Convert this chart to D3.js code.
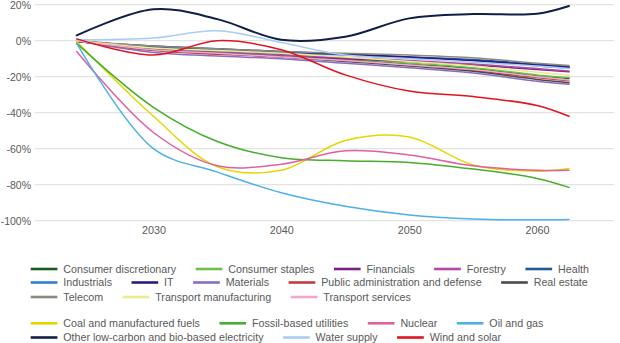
<!DOCTYPE html>
<html><head><meta charset="utf-8">
<script src="https://cdn.jsdelivr.net/npm/d3@7"></script>
<style>
html,body{margin:0;padding:0;background:#fff;}
svg{display:block;}
text{font-family:"Liberation Sans",Arial,sans-serif;fill:#595959;}
</style></head>
<body>
<svg id="chart" width="620" height="343"></svg>
<script>
// ---- data ----
const years = [2024, 2030, 2035, 2040, 2045, 2050, 2055, 2060, 2062.5];
const xTicks = [2030, 2040, 2050, 2060];
const yTicks = [20, 0, -20, -40, -60, -80, -100];

const consumerDiscretionary = [0, -4, -6, -8, -10.5, -13, -15.5, -19.5, -21];
const consumerStaples = [0, -4.5, -6, -8, -10, -12.5, -15, -19, -20.5];
const financials = [-0.5, -4.5, -6.5, -8, -10, -11.5, -13.5, -16, -17.3];
const forestry = [0, -5, -6.5, -8, -9.5, -11, -13, -15.5, -16.8];
const health = [0, -3.5, -5, -6.5, -7.5, -9, -10.5, -13, -14.3];
const industrials = [-0.5, -4, -5.5, -7, -8, -9.5, -11, -14, -15.2];
const it = [-0.5, -3, -4.5, -6, -7.5, -9, -11, -13.5, -14.8];
const materials = [0, -6.5, -8.5, -10, -12.5, -15, -18, -22.5, -24.2];
const publicAdmin = [0, -5.5, -7.5, -9, -11, -13.5, -16.5, -20.5, -22.3];
const realEstate = [0, -5, -7, -9, -11.5, -14, -17, -21.5, -23.3];
const telecom = [0, -3, -4.5, -6, -7, -8, -9.5, -12.5, -13.8];
const transportManufacturing = [0, -4, -5.5, -7, -9, -11.5, -14, -17.5, -19];
const transportServices = [0, -5, -7, -9, -11, -13.5, -16, -20, -21.8];
const coal = [-0.5, -42, -70, -72, -55.5, -53.5, -69, -72.5, -71];
const fossilUtilities = [-1.5, -37, -56, -65, -66.7, -67.6, -71.3, -76.5, -81.5];
const nuclear = [-6, -51, -69.5, -68.6, -61.2, -63.5, -69.5, -72, -72];
const oilGas = [-1.5, -60, -73, -84.5, -92, -96.8, -99, -99.5, -99.3];
const otherLowCarbon = [3, 17.5, 12, 0.5, 2.2, 12.4, 14.8, 15, 19.3];
const waterSupply = [0.5, 1.5, 5.5, -1, -8, -10, -12, -14, -15.5];
const windSolar = [1, -8, 0, -5, -19, -28, -31, -36, -42];

const seriesNames = [
  "Consumer discretionary","Consumer staples","Financials","Forestry","Health",
  "Industrials","IT","Materials","Public administration and defense","Real estate",
  "Telecom","Transport manufacturing","Transport services",
  "Coal and manufactured fuels","Fossil-based utilities","Nuclear","Oil and gas",
  "Other low-carbon and bio-based electricity","Water supply","Wind and solar"
];
const seriesValues = [
  consumerDiscretionary, consumerStaples, financials, forestry, health,
  industrials, it, materials, publicAdmin, realEstate,
  telecom, transportManufacturing, transportServices,
  coal, fossilUtilities, nuclear, oilGas,
  otherLowCarbon, waterSupply, windSolar
];

// ---- styles ----
const colors = [
  "#1a5e1f","#6cc04a","#7d1f80","#b04aa8","#1f5a96",
  "#2f7fcf","#2c1a80","#8a6cc0","#c43c3e","#4a4a4a",
  "#8f8a80","#eee98a","#f0a8d0",
  "#e2d800","#47ad2c","#e0609f","#4fb0e8",
  "#0f1f45","#a9cdf0","#e0141e"
];
const legendRows = [[0,1,2,3,4],[5,6,7,8,9],[10,11,12],[13,14,15,16],[17,18,19]];
const legendRowY = [269, 282.5, 297, 323.3, 337.5];

// ---- layout ----
const svg = d3.select("#chart");
const x = d3.scaleLinear().domain([2024, 2062.5]).range([76.7, 569]);
const y = d3.scaleLinear().domain([20, -100]).range([4.7, 220.7]);
const gridLeft = 35, gridRight = 614;

// gridlines
svg.append("g").selectAll("line").data(yTicks).join("line")
  .attr("x1", gridLeft).attr("x2", gridRight)
  .attr("y1", d => y(d)).attr("y2", d => y(d))
  .attr("stroke", "#e3e3e3").attr("stroke-width", 1.3);

// y axis labels
const yAxis = d3.axisLeft(y).tickValues(yTicks).tickSize(0).tickPadding(0)
  .tickFormat(d => d + "%");
const gy = svg.append("g").attr("transform", "translate(31,0)").call(yAxis);
gy.select(".domain").remove();
gy.selectAll("text").attr("font-size", 10.5).attr("fill", "#595959")
  .attr("font-family", "Liberation Sans, Arial, sans-serif");

// x axis labels
const xAxis = d3.axisBottom(x).tickValues(xTicks).tickSize(0).tickPadding(0)
  .tickFormat(d3.format("d"));
const gx = svg.append("g").attr("transform", "translate(0,226)").call(xAxis);
gx.select(".domain").remove();
gx.selectAll("text").attr("font-size", 10.8).attr("fill", "#595959")
  .attr("font-family", "Liberation Sans, Arial, sans-serif");

// lines
const line = d3.line().x((d, i) => x(years[i])).y(d => y(d)).curve(d3.curveCatmullRom.alpha(0.5));
svg.append("g").selectAll("path").data(seriesValues).join("path")
  .attr("d", d => line(d))
  .attr("fill", "none")
  .attr("stroke", (d, i) => colors[i])
  .attr("stroke-width", (d, i) => i === 17 ? 2 : 1.5)
  .attr("stroke-linejoin", "round").attr("stroke-linecap", "round");

// legend
const lg = svg.append("g");
legendRows.forEach((row, r) => {
  let cx = 30.7;
  row.forEach(idx => {
    const g = lg.append("g").attr("transform", `translate(${cx},${legendRowY[r]})`);
    g.append("line").attr("x1", 0).attr("x2", 26.7).attr("y1", 0).attr("y2", 0)
      .attr("stroke", colors[idx]).attr("stroke-width", 2.6);
    const t = g.append("text").attr("x", 32.6).attr("y", 0).attr("dy", "0.35em")
      .attr("font-size", 10.7).text(seriesNames[idx]);
    cx += 32.6 + t.node().getComputedTextLength() + 19.5;
  });
});
</script>
</body></html>
